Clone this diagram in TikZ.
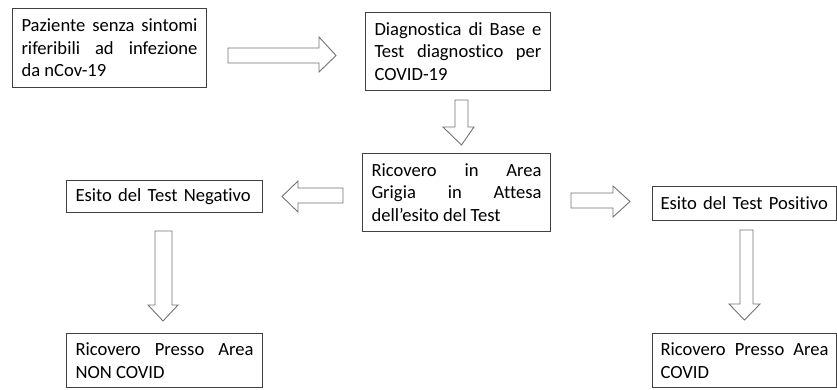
\documentclass[tikz,border=0pt]{standalone}
\usepackage{fontspec}
\setmainfont{Carlito}[Ligatures={NoCommon}]
\newcommand{\boxfont}{\fontsize{18.6}{22.5}\selectfont\spaceskip=0.226em plus 2em minus 0em\relax\hyphenpenalty=10000\exhyphenpenalty=10000\relax}
\begin{document}
\begin{tikzpicture}[x=1pt,y=-1pt,
  box/.style={draw=black!75, line width=1pt, anchor=north west, inner xsep=9pt, inner ysep=0pt,
    font=\boxfont, align=justify},
  barrow/.style={draw=black!55, line width=0.9pt, fill=white, line join=miter}]
\useasboundingbox (0,0) rectangle (837,389);
% boxes
\node[box, text width=176pt, minimum height=79pt] (paz) at (12,8)
  {Paziente senza sintomi riferibili ad infezione da nCov-19};
\node[box, text width=167pt, minimum height=78pt] (diag) at (365,12)
  {Diagnostica di Base e Test diagnostico per COVID-19};
\node[box, text width=170pt, minimum height=78pt] (grig) at (362,153)
  {Ricovero in Area Grigia in Attesa dell’esito del Test};
\node[box, text width=178pt, minimum height=32pt, align=left] (neg) at (66,180)
  {Esito del Test Negativo};
\node[box, inner xsep=8pt, text width=168pt, minimum height=34pt, align=left] (pos) at (652,186)
  {Esito del Test Positivo};
\node[box, text width=178pt, minimum height=54pt] (noncov) at (66,333)
  {Ricovero Presso Area NON COVID};
\node[box, inner xsep=8pt, text width=168pt, minimum height=54pt] (cov) at (652,333)
  {Ricovero Presso Area COVID};
% block arrows
% right arrow 1
\draw[barrow] (228,48) -- (319,48) -- (319,37) -- (336,55.5) -- (319,72) -- (319,63) -- (228,63) -- cycle;
% down arrow 1
\draw[barrow] (455,100) -- (468,100) -- (468,127) -- (474,127) -- (461.5,145) -- (443,127) -- (455,127) -- cycle;
% left arrow
\draw[barrow] (343,188) -- (298,188) -- (298,181) -- (282,196.5) -- (298,212) -- (298,203) -- (343,203) -- cycle;
% right arrow 2
\draw[barrow] (571,193) -- (613,193) -- (613,186) -- (630,201.5) -- (613,217) -- (613,208) -- (571,208) -- cycle;
% down arrow left
\draw[barrow] (155,231) -- (172,231) -- (172,305) -- (178,305) -- (163,321) -- (148,305) -- (155,305) -- cycle;
% down arrow right
\draw[barrow] (740,230) -- (753,230) -- (753,304) -- (760,304) -- (744.5,320) -- (729,304) -- (740,304) -- cycle;
\end{tikzpicture}
\end{document}
